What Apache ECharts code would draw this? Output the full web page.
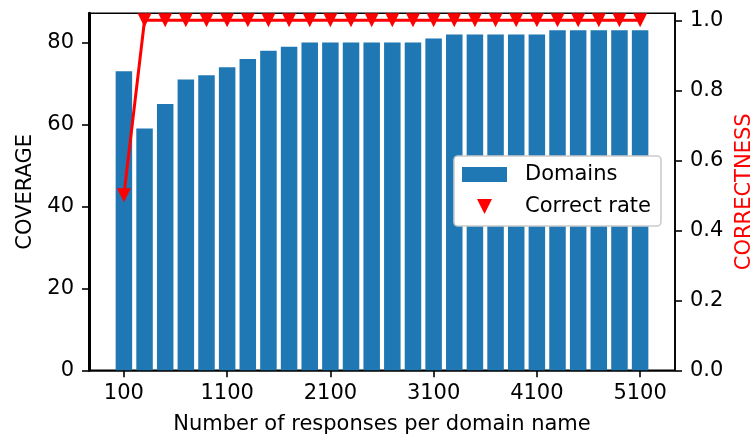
<!DOCTYPE html>
<html>
<head>
<meta charset="utf-8">
<script src="https://cdn.jsdelivr.net/npm/echarts@6/dist/echarts.min.js"></script>
<style>
  html, body { margin: 0; padding: 0; background: #fff; }
  #chart { width: 752px; height: 436px; }
</style>
</head>
<body>
<div id="chart"></div>
<script>
// responses per domain name (x), bar heights, correct rate
const responses = [100, 300, 500, 700, 900, 1100, 1300, 1500, 1700, 1900, 2100, 2300, 2500,
  2700, 2900, 3100, 3300, 3500, 3700, 3900, 4100, 4300, 4500, 4700, 4900, 5100];
const domains = [73, 59, 65, 71, 72, 74, 76, 78, 79, 80, 80, 80, 80,
  80, 80, 81, 82, 82, 82, 82, 82, 83, 83, 83, 83, 83];
const correctRate = [0.5, 1, 1, 1, 1, 1, 1, 1, 1, 1, 1, 1, 1,
  1, 1, 1, 1, 1, 1, 1, 1, 1, 1, 1, 1, 1];
const xTicks = [100, 1100, 2100, 3100, 4100, 5100];

const font = 'DejaVu Sans';
const fs = 21;
const triDown = 'path://M0,0 L10,0 L5,10 Z';

const chart = echarts.init(document.getElementById('chart'));
chart.setOption({
  animation: false,
  backgroundColor: '#fff',
  textStyle: { fontFamily: font },
  grid: {
    left: 89, right: 77, top: 13.3, bottom: 65.7,
    outerBoundsMode: 'none',
    containLabel: false,
    show: true, borderColor: '#000', borderWidth: 1.6,
    backgroundColor: 'transparent'
  },
  legend: {
    orient: 'vertical',
    left: 454, top: 156,
    padding: [8, 10, 9, 8],
    itemWidth: 45, itemHeight: 15, itemGap: 11,
    backgroundColor: '#fff',
    borderColor: '#cccccc', borderWidth: 1.6, borderRadius: 4,
    textStyle: { fontFamily: font, fontSize: fs, color: '#000', padding: [0, 0, 0, 13] },
    data: [
      { name: 'Domains', icon: 'rect' },
      { name: 'Correct rate', icon: triDown }
    ]
  },
  xAxis: {
    type: 'value',
    min: -238, max: 5438,
    name: 'Number of responses per domain name',
    nameLocation: 'middle', nameGap: 44,
    nameTextStyle: { fontFamily: font, fontSize: fs, color: '#000' },
    axisLine: { onZero: false, lineStyle: { color: '#000', width: 1.6 } },
    axisTick: { length: 7, lineStyle: { color: '#000', width: 1.6 }, customValues: xTicks },
    axisLabel: {
      fontFamily: font, fontSize: fs, color: '#000', margin: 13, customValues: xTicks,
      formatter: v => String(v)
    },
    splitLine: { show: false }
  },
  yAxis: [
    {
      type: 'value',
      position: 'left',
      min: 0, max: 87.15, interval: 20,
      name: 'COVERAGE',
      nameLocation: 'middle', nameGap: 53, nameRotate: 90,
      nameTextStyle: { fontFamily: font, fontSize: fs, color: '#000' },
      axisLine: { show: true, onZero: false, lineStyle: { color: '#000', width: 3 } },
      axisTick: { show: true, length: 7, lineStyle: { color: '#000', width: 1.6 } },
      axisLabel: { fontFamily: font, fontSize: fs, color: '#000', margin: 15, showMaxLabel: false },
      splitLine: { show: false }
    },
    {
      type: 'value',
      position: 'right',
      min: 0, max: 1.02, interval: 0.2,
      name: 'CORRECTNESS',
      nameLocation: 'middle', nameGap: 57, nameRotate: 90,
      nameTextStyle: { fontFamily: font, fontSize: fs, color: '#ff0000' },
      axisLine: { show: true, onZero: false, lineStyle: { color: '#000', width: 1.6 } },
      axisTick: { show: true, length: 7, lineStyle: { color: '#000', width: 1.6 } },
      axisLabel: {
        fontFamily: font, fontSize: fs, color: '#000', margin: 15, showMaxLabel: false,
        formatter: v => v.toFixed(1)
      },
      splitLine: { show: false }
    }
  ],
  series: [
    {
      name: 'Domains',
      type: 'bar',
      barWidth: 16.5,
      itemStyle: { color: '#1f77b4' },
      data: responses.map((x, i) => [x, domains[i]])
    },
    {
      name: 'Correct rate',
      type: 'line',
      yAxisIndex: 1,
      symbol: triDown,
      symbolSize: 14,
      symbolKeepAspect: true,
      legendIcon: triDown,
      itemStyle: { color: '#ff0000' },
      lineStyle: { color: '#ff0000', width: 3 },
      z: 5,
      data: responses.map((x, i) => [x, correctRate[i]])
    }
  ]
});
</script>
</body>
</html>
